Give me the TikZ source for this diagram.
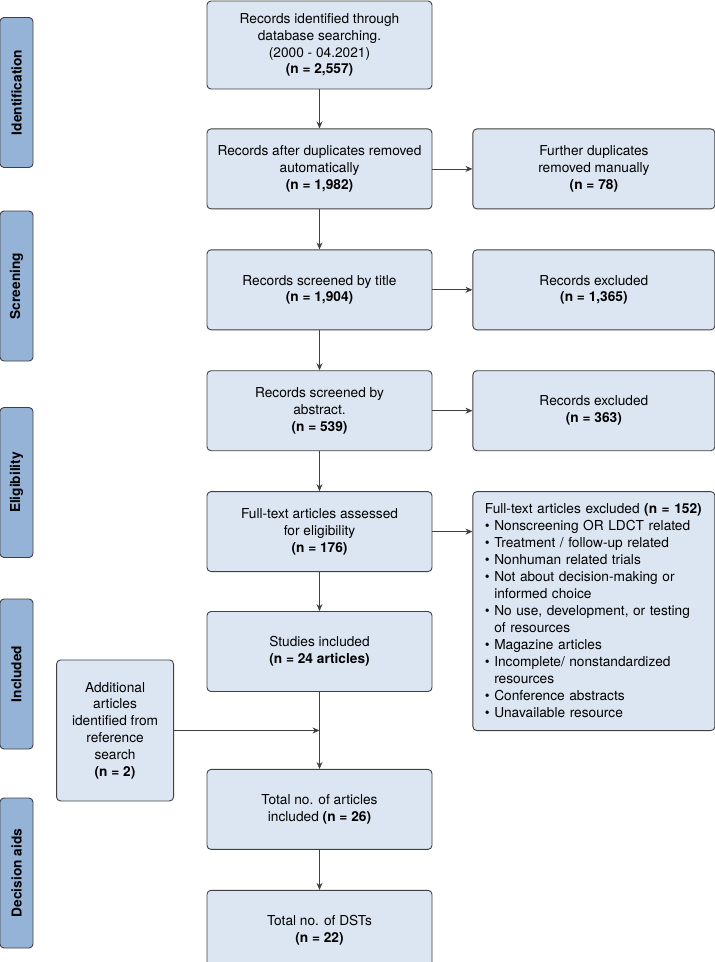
\documentclass[tikz,border=0pt]{standalone}
\usepackage{fontspec}
\setmainfont{TeX Gyre Heros}
\usetikzlibrary{arrows.meta, positioning, calc}
\definecolor{boxfill}{RGB}{220,230,242}
\definecolor{stagefill}{RGB}{149,179,215}
\definecolor{boxline}{RGB}{64,64,64}

\begin{document}
\begin{tikzpicture}[
    x=1pt, y=1pt,
    flow_box/.style={draw=boxline, line width=0.9pt, rounded corners=4pt, fill=boxfill, minimum width=225pt, minimum height=80pt, align=center, inner sep=4pt, font=\fontsize{13.7}{16.8}\selectfont},
    side_box/.style={flow_box, minimum width=242pt},
    stage_label/.style={draw=boxline, line width=0.9pt, rounded corners=4pt, fill=stagefill, minimum width=150pt, minimum height=33pt, rotate=90, font=\fontsize{13.7}{16.8}\selectfont\bfseries},
    arrow/.style={-{Stealth[length=7pt, width=6pt]}, line width=0.8pt, draw=black!75},
    node distance=40pt
]
    \useasboundingbox (0,0) rectangle (715,-962);

    % Stage labels on the left
    \node[stage_label] (st_ident) at (16.5,-92.5) {Identification};
    \node[stage_label] (st_screen) at (16.5,-286) {Screening};
    \node[stage_label] (st_elig) at (16.5,-482.5) {Eligibility};
    \node[stage_label] (st_incl) at (16.5,-674) {Included};
    \node[stage_label] (st_aids) at (16.5,-873) {Decision aids};

    % Main flow
    \node[flow_box, minimum height=88pt] (b1) at (319.5,-45) {Records identified through\\database searching.\\(2000 - 04.2021)\\\textbf{(n = 2,557)}};
    \node[flow_box, below=39pt of b1] (b2) {Records after duplicates removed\\automatically\\\textbf{(n = 1,982)}};
    \node[flow_box, below=of b2] (b3) {Records screened by title\\\textbf{(n = 1,904)}};
    \node[flow_box, below=of b3] (b4) {Records screened by\\abstract.\\\textbf{(n = 539)}};
    \node[flow_box, below=of b4] (b5) {Full-text articles assessed\\for eligibility\\\textbf{(n = 176)}};
    \node[flow_box, below=39pt of b5] (b6) {Studies included\\\textbf{(n = 24 articles)}};
    \node[flow_box, below=77pt of b6] (b7) {Total no. of articles\\included \textbf{(n = 26)}};
    \node[flow_box, below=of b7] (b8) {Total no. of DSTs\\\textbf{(n = 22)}};

    % Excluded records on the right
    \node[side_box, right=of b2] (r1) {Further duplicates\\removed manually\\\textbf{(n = 78)}};
    \node[side_box, right=of b3] (r2) {Records excluded\\\textbf{(n = 1,365)}};
    \node[side_box, right=of b4] (r3) {Records excluded\\\textbf{(n = 363)}};
    \node[side_box, align=left, text width=218pt, inner xsep=12pt, minimum height=239pt,
        font=\fontsize{13.7}{17}\selectfont,
        below right=0pt and 40pt of b5.north east] (excl) {Full-text articles excluded \textbf{(n = 152)}\\
        \textbullet\ Nonscreening OR LDCT related\\
        \textbullet\ Treatment / follow-up related\\
        \textbullet\ Nonhuman related trials\\
        \textbullet\ Not about decision-making or\\
        \hphantom{\textbullet\ }informed choice\\
        \textbullet\ No use, development, or testing\\
        \hphantom{\textbullet\ }of resources\\
        \textbullet\ Magazine articles\\
        \textbullet\ Incomplete/ nonstandardized\\
        \hphantom{\textbullet\ }resources\\
        \textbullet\ Conference abstracts\\
        \textbullet\ Unavailable resource};

    % Additional articles joining the main line
    \coordinate (join) at ($(b6.south)!0.5!(b7.north)$);
    \node[flow_box, minimum width=117pt, minimum height=141pt, left=145.5pt of join] (addl) {Additional\\articles\\identified from\\reference\\search\\\textbf{(n = 2)}};

    % Arrows
    \draw[arrow] (b1) -- (b2);
    \draw[arrow] (b2) -- (b3);
    \draw[arrow] (b3) -- (b4);
    \draw[arrow] (b4) -- (b5);
    \draw[arrow] (b5) -- (b6);
    \draw[arrow] (b6) -- (b7);
    \draw[arrow] (b7) -- (b8);
    \draw[arrow] (b2) -- (r1);
    \draw[arrow] (b3) -- (r2);
    \draw[arrow] (b4) -- (r3);
    \draw[arrow] (b5.east) -- (b5.east -| excl.west);
    \draw[arrow] (addl) -- (join);

\end{tikzpicture}
\end{document}
